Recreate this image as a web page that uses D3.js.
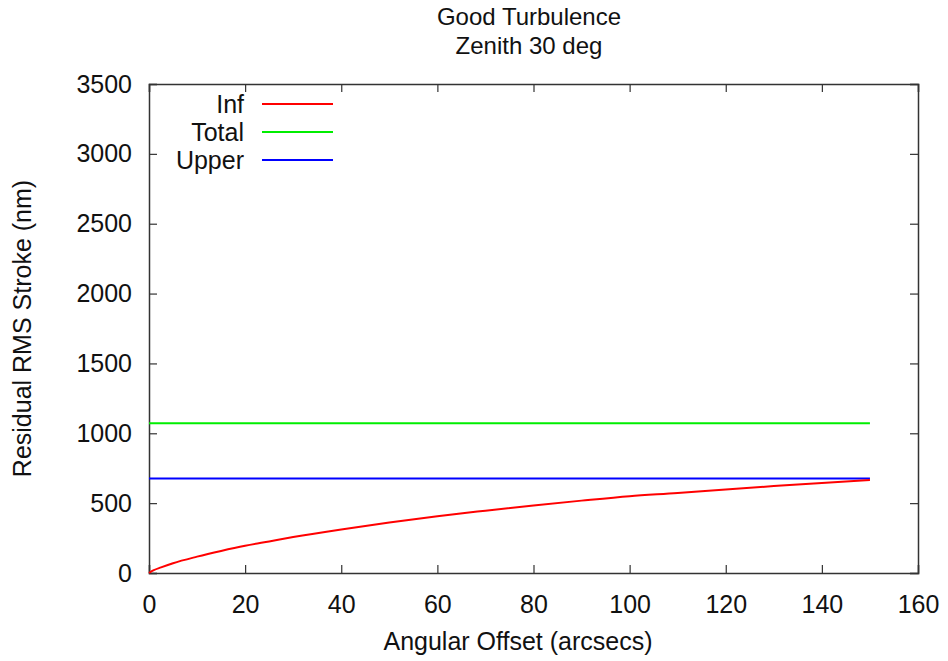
<!DOCTYPE html>
<html>
<head>
<meta charset="utf-8">
<script src="https://cdn.jsdelivr.net/npm/d3@7"></script>
<style>
  body { margin: 0; background: #fff; }
  text { font-family: "Liberation Sans", Arial, sans-serif; fill: #111; }
</style>
</head>
<body>
<div id="chart"></div>
<script>
// data
var offsets = [0, 1, 2.5, 5, 10, 15, 20, 25, 30, 40, 50, 60, 70, 80, 90, 100, 110, 120, 130, 140, 150];
var infValues = [0, 20, 40, 70, 117, 158, 195, 226, 257, 312, 362, 407, 446, 483, 518, 550, 572, 598, 622, 645, 666];
var totalValues = [1072, 1072];
var upperValues = [676, 676];
var flatOffsets = [0, 150];
var xTicks = [0, 20, 40, 60, 80, 100, 120, 140, 160];
var yTicks = [0, 500, 1000, 1500, 2000, 2500, 3000, 3500];
var seriesNames = ["Inf", "Total", "Upper"];
var seriesColors = ["#ff0000", "#00ee00", "#0000ff"];

var W = 948, H = 661;
var margin = { top: 84, right: 30, bottom: 88, left: 149 },
    width = W - margin.left - margin.right,
    height = H - margin.top - margin.bottom;
var fontSize = 25;

var svg = d3.select("#chart")
    .append("svg")
    .attr("width", W)
    .attr("height", H);

var g = svg.append("g")
    .attr("transform", "translate(" + margin.left + "," + margin.top + ")");

var x = d3.scaleLinear().domain([0, 160]).range([0, width]);
var y = d3.scaleLinear().domain([0, 3500]).range([height, 0]);

var axisColor = "#333";
var fmt = d3.format("d");

// axes with inward ticks, mirrored on top and right
var axBottom = g.append("g")
    .attr("transform", "translate(0," + height + ")")
    .call(d3.axisBottom(x).tickValues(xTicks).tickFormat(fmt).tickSize(-8).tickPadding(22));
var axLeft = g.append("g")
    .call(d3.axisLeft(y).tickValues(yTicks).tickFormat(fmt).tickSize(-8).tickPadding(17));
var axTop = g.append("g")
    .call(d3.axisTop(x).tickValues(xTicks).tickSize(-8).tickFormat(""));
var axRight = g.append("g")
    .attr("transform", "translate(" + width + ",0)")
    .call(d3.axisRight(y).tickValues(yTicks).tickSize(-8).tickFormat(""));

[axBottom, axLeft, axTop, axRight].forEach(function(a) {
    a.select(".domain").attr("stroke", axisColor).attr("stroke-width", 1.5);
    a.selectAll(".tick line").attr("stroke", axisColor).attr("stroke-width", 1.2);
    a.selectAll(".tick text")
        .attr("font-size", fontSize)
        .attr("font-family", "Liberation Sans, Arial, sans-serif")
        .attr("fill", "#111");
});

var line = d3.line()
    .x(function(d) { return x(d[0]); })
    .y(function(d) { return y(d[1]); });

var totalData = d3.zip(flatOffsets, totalValues);
var upperData = d3.zip(flatOffsets, upperValues);
var infData = d3.zip(offsets, infValues);

g.append("path").datum(totalData)
    .attr("fill", "none").attr("stroke", seriesColors[1]).attr("stroke-width", 2)
    .attr("d", line);
g.append("path").datum(upperData)
    .attr("fill", "none").attr("stroke", seriesColors[2]).attr("stroke-width", 2)
    .attr("d", line);
g.append("path").datum(infData)
    .attr("fill", "none").attr("stroke", seriesColors[0]).attr("stroke-width", 2)
    .attr("d", d3.line().curve(d3.curveMonotoneX)
        .x(function(d) { return x(d[0]); })
        .y(function(d) { return y(d[1]); }));

// legend
var legend = g.append("g").attr("transform", "translate(0,20)");
seriesNames.forEach(function(name, i) {
    var ly = i * 28;
    legend.append("text")
        .attr("x", 95).attr("y", ly)
        .attr("dy", "0.35em")
        .attr("text-anchor", "end")
        .attr("font-size", fontSize)
        .text(name);
    legend.append("line")
        .attr("x1", 113).attr("x2", 184)
        .attr("y1", ly).attr("y2", ly)
        .attr("stroke", seriesColors[i]).attr("stroke-width", 2);
});

// titles
svg.append("text")
    .attr("x", 529).attr("y", 25)
    .attr("text-anchor", "middle").attr("font-size", 24)
    .text("Good Turbulence");
svg.append("text")
    .attr("x", 529).attr("y", 54)
    .attr("text-anchor", "middle").attr("font-size", 24)
    .text("Zenith 30 deg");
svg.append("text")
    .attr("x", 518).attr("y", 650)
    .attr("text-anchor", "middle").attr("font-size", fontSize)
    .text("Angular Offset (arcsecs)");
svg.append("text")
    .attr("transform", "translate(31," + (margin.top + height / 2) + ") rotate(-90)")
    .attr("text-anchor", "middle").attr("font-size", fontSize)
    .text("Residual RMS Stroke (nm)");
</script>
</body>
</html>
